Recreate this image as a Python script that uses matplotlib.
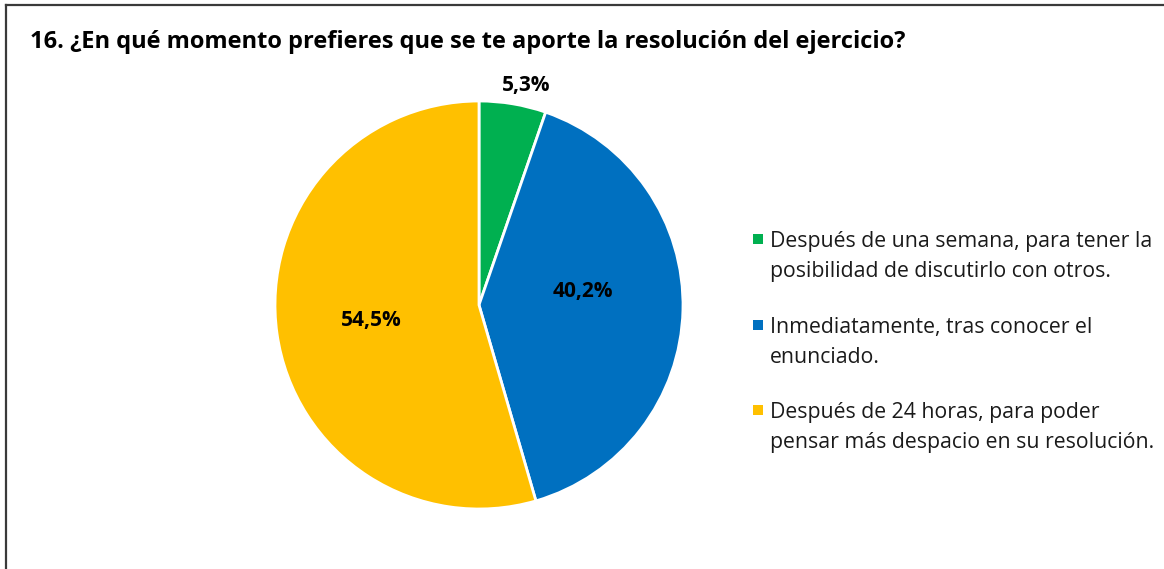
import matplotlib
matplotlib.use("Agg")
import matplotlib.pyplot as plt
from matplotlib.lines import Line2D
from matplotlib.patches import Rectangle
import numpy as np

# ── Data ──
title = "16. ¿En qué momento prefieres que se te aporte la resolución del ejercicio?"
categories = [
    "Después de una semana, para tener la\nposibilidad de discutirlo con otros.",
    "Inmediatamente, tras conocer el\nenunciado.",
    "Después de 24 horas, para poder\npensar más despacio en su resolución.",
]
values = [5.3, 40.2, 54.5]
pct_labels = ["5,3%", "40,2%", "54,5%"]
colors = ["#00B050", "#0070C0", "#FFC000"]

plt.rcParams["font.family"] = ["Open Sans", "DejaVu Sans"]

W, H = 1164, 569
fig = plt.figure(figsize=(W / 100, H / 100), dpi=100)
fig.patch.set_facecolor("white")

# ── Pie axes (centre 479,305 px; radius 204 px) ──
cx, cy, r = 479, 305, 204
ax = fig.add_axes([(cx - r) / W, (H - cy - r) / H, 2 * r / W, 2 * r / H])
wedges, _ = ax.pie(values, colors=colors, startangle=90, counterclock=False,
                   radius=1.0, wedgeprops=dict(edgecolor="white", linewidth=2))
ax.set_xlim(-1, 1)
ax.set_ylim(-1, 1)
ax.set_aspect("equal")
ax.axis("off")

# ── Percentage labels (radius, angle nudge in degrees) ──
label_r = [1.10, 0.515, 0.535]
label_dang = [-2.5, 9.0, 0.3]
for w, lab, lr, da in zip(wedges, pct_labels, label_r, label_dang):
    ang = np.deg2rad((w.theta1 + w.theta2) / 2 + da)
    ax.text(lr * np.cos(ang), lr * np.sin(ang), lab, ha="center", va="center",
            fontsize=15, fontweight="bold", color="black", clip_on=False)

# ── Title ──
fig.text(30 / W, 1 - 42 / H, title, ha="left", va="center",
         fontsize=17, fontweight="bold", color="black")

# ── Legend (manual, marker aligned with first line) ──
leg_base = [247, 333, 418]   # baseline of first line, px from top
line_gap = 30
for yb, lab, col in zip(leg_base, categories, colors):
    fig.patches.append(Rectangle(((758 - 5) / W, (H - (yb - 8) - 5) / H), 10 / W, 10 / H,
                                 transform=fig.transFigure, facecolor=col,
                                 edgecolor="none"))
    for k, line in enumerate(lab.split("\n")):
        fig.text(770 / W, 1 - (yb + k * line_gap) / H, line, ha="left",
                 va="baseline", fontsize=15.3, color="#1a1a1a")

# ── Chart border (top and left edges visible) ──
fig.add_artist(Line2D([6 / W, 1], [1 - 5 / H, 1 - 5 / H], color="#3a3a3a",
                      lw=1.6, transform=fig.transFigure))
fig.add_artist(Line2D([6 / W, 6 / W], [0, 1 - 5 / H], color="#3a3a3a",
                      lw=1.6, transform=fig.transFigure))

fig.savefig("out.png", dpi=100, facecolor="white")
